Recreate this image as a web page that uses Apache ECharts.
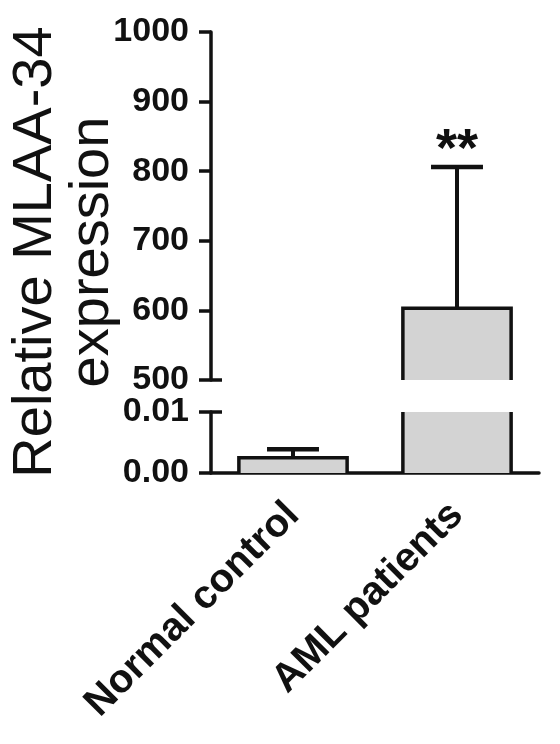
<!DOCTYPE html>
<html>
<head>
<meta charset="utf-8">
<style>
  html, body { margin: 0; padding: 0; background: #fff; }
  #main { width: 560px; height: 744px; }
</style>
<script src="https://cdn.jsdelivr.net/npm/echarts@6/dist/echarts.min.js"></script>
</head>
<body>
<div id="main"></div>
<script>
// data (mean and mean + SD)
const categories = ['Normal control', 'AML patients']
const meanValues = [0.0025, 603]
const errorTops = [0.0039, 806]
const marks = ['', '**']

// broken y axis: two segments
const upperRange = [500, 1000]
const upperStep = 100
const lowerRange = [0, 0.01]
const lowerStep = 0.01

const font = '"Liberation Sans", Arial, Helvetica, sans-serif'
const ink = '#111'
const barFill = '#d3d3d3'
const lineW = 3.5

const gridLeft = 211
const gridRight = 21
const upperTop = 32
const upperHeight = 348
const lowerTop = 412
const lowerHeight = 61

const chart = echarts.init(document.getElementById('main'))

function renderBar(params, api) {
  const cat = api.value(0)
  const mean = api.value(1)
  const err = api.value(2)
  const cs = params.coordSys
  const yMin = cs.y
  const yMax = cs.y + cs.height
  const pMean = api.coord([cat, mean])
  if (pMean[1] > yMax + 0.5) return null

  const xc = pMean[0]
  const bw = api.size([1, 0])[0] * 0.66
  const x0 = xc - bw / 2
  const x1 = xc + bw / 2
  const clipped = pMean[1] < yMin
  const yTop = clipped ? yMin : pMean[1]
  const stroke = { stroke: ink, lineWidth: lineW, fill: null }

  const children = [{
    type: 'rect',
    shape: { x: x0, y: yTop, width: bw, height: yMax - yTop },
    style: { fill: barFill }
  }]

  if (clipped) {
    children.push(
      { type: 'line', shape: { x1: x0, y1: yTop, x2: x0, y2: yMax }, style: stroke },
      { type: 'line', shape: { x1: x1, y1: yTop, x2: x1, y2: yMax }, style: stroke }
    )
    return { type: 'group', children }
  }

  children.push({
    type: 'polyline',
    shape: { points: [[x0, yMax], [x0, yTop], [x1, yTop], [x1, yMax]] },
    style: Object.assign({ lineJoin: 'miter' }, stroke)
  })

  const yErr = Math.max(yMin, api.coord([cat, err])[1])
  const capHalf = bw * 0.24
  children.push(
    { type: 'line', shape: { x1: xc, y1: yTop, x2: xc, y2: yErr }, style: { stroke: ink, lineWidth: 4 } },
    { type: 'line', shape: { x1: xc - capHalf, y1: yErr, x2: xc + capHalf, y2: yErr }, style: { stroke: ink, lineWidth: 4.5 } }
  )

  if (marks[cat]) {
    children.push({
      type: 'text',
      style: {
        text: marks[cat],
        x: xc,
        y: yErr - 16,
        align: 'center',
        verticalAlign: 'middle',
        font: 'bold 54px ' + font,
        fill: ink
      }
    })
  }
  return { type: 'group', children }
}

const barData = categories.map((c, i) => [i, meanValues[i], errorTops[i]])

const axisLineStyle = { color: ink, width: lineW }
const tickLabel = { color: ink, fontSize: 34, fontWeight: 'bold', fontFamily: font, margin: 22 }

chart.setOption({
  animation: false,
  backgroundColor: '#fff',
  grid: [
    { left: gridLeft, right: gridRight, top: upperTop, height: upperHeight },
    { left: gridLeft, right: gridRight, top: lowerTop, height: lowerHeight }
  ],
  xAxis: [
    { gridIndex: 0, type: 'category', data: categories, show: false },
    {
      gridIndex: 1,
      type: 'category',
      data: categories,
      axisLine: { lineStyle: axisLineStyle },
      axisTick: { alignWithLabel: true, length: 12, lineStyle: axisLineStyle },
      axisLabel: {
        interval: 0,
        rotate: 45,
        margin: 36,
        color: ink,
        fontSize: 40,
        fontWeight: 'bold',
        fontFamily: font
      }
    }
  ],
  yAxis: [
    {
      gridIndex: 0,
      type: 'value',
      min: upperRange[0],
      max: upperRange[1],
      interval: upperStep,
      axisLine: { show: true, lineStyle: axisLineStyle },
      axisTick: { show: true, length: 12, lineStyle: axisLineStyle },
      axisLabel: Object.assign({ formatter: v => String(v) }, tickLabel),
      splitLine: { show: false }
    },
    {
      gridIndex: 1,
      type: 'value',
      min: lowerRange[0],
      max: lowerRange[1],
      interval: lowerStep,
      axisLine: { show: true, lineStyle: axisLineStyle },
      axisTick: { show: true, length: 12, lineStyle: axisLineStyle },
      axisLabel: Object.assign({ formatter: v => v.toFixed(2) }, tickLabel),
      splitLine: { show: false }
    }
  ],
  graphic: [
    {
      type: 'line',
      shape: { x1: gridLeft, y1: upperTop + upperHeight, x2: gridLeft + 11, y2: upperTop + upperHeight },
      style: { stroke: ink, lineWidth: lineW }
    },
    {
      type: 'line',
      shape: { x1: gridLeft, y1: lowerTop, x2: gridLeft + 11, y2: lowerTop },
      style: { stroke: ink, lineWidth: lineW }
    },
    {
      type: 'text',
      x: 64,
      y: 252,
      rotation: Math.PI / 2,
      style: {
        text: 'Relative MLAA-34\nexpression',
        font: '56px ' + font,
        lineHeight: 57,
        align: 'center',
        verticalAlign: 'middle',
        fill: ink
      }
    }
  ],
  series: [
    {
      type: 'custom',
      xAxisIndex: 0,
      yAxisIndex: 0,
      renderItem: renderBar,
      data: barData
    },
    {
      type: 'custom',
      xAxisIndex: 1,
      yAxisIndex: 1,
      renderItem: renderBar,
      data: barData
    }
  ]
})
</script>
</body>
</html>
